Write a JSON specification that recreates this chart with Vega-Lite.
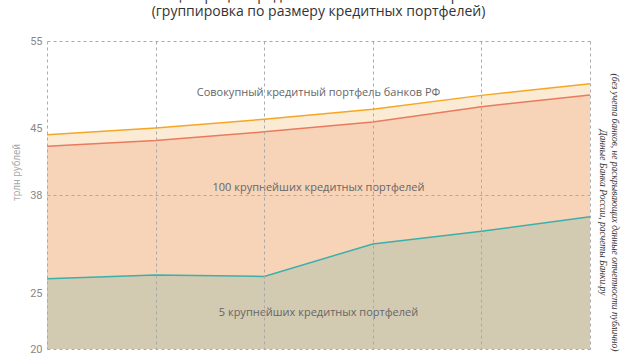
{
  "$schema": "https://vega.github.io/schema/vega-lite/v6.json",
  "autosize": "none",
  "width": 543,
  "height": 308,
  "padding": {"left": 47, "top": 41, "right": 40, "bottom": 6},
  "background": "white",
  "title": {
    "text": ["Концентрация кредитов в банковском секторе РФ", "(группировка по размеру кредитных портфелей)"],
    "font": "Open Sans",
    "fontSize": 14,
    "fontWeight": "normal",
    "color": "#333333",
    "anchor": "middle",
    "lineHeight": 16,
    "offset": 16
  },
  "config": {"view": {"stroke": null}},
  "data": {
    "values": [
      {"year": 2013, "total": 44.3, "top100": 43.1, "top5": 26.9},
      {"year": 2014, "total": 45.0, "top100": 43.7, "top5": 27.4},
      {"year": 2015, "total": 46.0, "top100": 44.6, "top5": 27.2},
      {"year": 2016, "total": 47.15, "top100": 45.7, "top5": 31.5},
      {"year": 2017, "total": 48.75, "top100": 47.45, "top5": 33.2},
      {"year": 2018, "total": 50.1, "top100": 48.8, "top5": 35.1}
    ]
  },
  "resolve": {"axis": {"y": "independent"}},
  "layer": [
    {
      "mark": {"type": "area", "color": "#FCEBD4", "opacity": 1},
      "encoding": {
        "x": {
          "field": "year", "type": "quantitative",
          "scale": {"domain": [2013, 2018], "nice": false, "zero": false},
          "axis": {
            "values": [2013, 2014, 2015, 2016, 2017, 2018],
            "labels": false, "ticks": false, "domain": false, "title": null,
            "grid": true, "gridColor": "#aaaaaa", "gridDash": [3, 3], "gridWidth": 1, "zindex": 1
          }
        },
        "y": {
          "field": "total", "type": "quantitative",
          "scale": {"type": "linear", "domain": [20, 25, 38, 45, 55], "range": [308, 252, 154, 87, 0], "zero": false, "nice": false},
          "axis": {
            "values": [20, 25, 38, 45, 55],
            "ticks": false, "domain": false,
            "labelFont": "Roboto", "labelFontSize": 11, "labelColor": "#888888", "labelPadding": 5,
            "grid": true, "gridColor": "#aaaaaa", "gridDash": [3, 3], "gridWidth": 1,
            "gridOpacity": {"condition": {"test": "datum.value == 25 || datum.value == 45", "value": 0}, "value": 1},
            "title": "трлн рублей", "titleFont": "Roboto", "titleFontSize": 10, "titleFontWeight": "normal",
            "titleColor": "#aaaaaa", "titleX": -31, "titleY": 131, "titleAngle": -90, "titleAlign": "center", "titleBaseline": "middle",
            "zindex": 1
          }
        },
        "y2": {"datum": 20}
      }
    },
    {
      "mark": {"type": "area", "color": "#F7D4B8", "opacity": 1},
      "encoding": {
        "x": {"field": "year", "type": "quantitative"},
        "y": {"field": "top100", "type": "quantitative", "axis": null},
        "y2": {"datum": 20}
      }
    },
    {
      "mark": {"type": "area", "color": "#D3CAB2", "opacity": 1},
      "encoding": {
        "x": {"field": "year", "type": "quantitative"},
        "y": {"field": "top5", "type": "quantitative", "axis": null},
        "y2": {"datum": 20}
      }
    },
    {
      "mark": {"type": "line", "color": "#F5A623", "strokeWidth": 1.5},
      "encoding": {
        "x": {"field": "year", "type": "quantitative"},
        "y": {"field": "total", "type": "quantitative", "axis": null}
      }
    },
    {
      "mark": {"type": "line", "color": "#EA7A5E", "strokeWidth": 1.5},
      "encoding": {
        "x": {"field": "year", "type": "quantitative"},
        "y": {"field": "top100", "type": "quantitative", "axis": null}
      }
    },
    {
      "mark": {"type": "line", "color": "#3AB0AA", "strokeWidth": 1.5},
      "encoding": {
        "x": {"field": "year", "type": "quantitative"},
        "y": {"field": "top5", "type": "quantitative", "axis": null}
      }
    },
    {
      "data": {
        "values": [
          {"x": 2015.5, "y": 49.0, "label": "Совокупный кредитный портфель банков РФ"},
          {"x": 2015.5, "y": 38.73, "label": "100 крупнейших кредитных портфелей"},
          {"x": 2015.5, "y": 23.2, "label": "5 крупнейших кредитных портфелей"}
        ]
      },
      "mark": {"type": "text", "font": "Open Sans", "fontSize": 11, "color": "#666666", "align": "center", "baseline": "middle"},
      "encoding": {
        "x": {"field": "x", "type": "quantitative"},
        "y": {
          "field": "y", "type": "quantitative",
          "axis": {
            "orient": "right", "labels": false, "ticks": false, "domain": false, "grid": false,
            "title": ["(без учета банков, не раскрывающих данные отчетности публично)", "Данные Банка России, расчеты Банки.ру"],
            "titleFont": "Liberation Serif", "titleFontStyle": "italic", "titleFontWeight": "normal",
            "titleFontSize": 9.5, "titleColor": "#333333", "titleLineHeight": 12,
            "titleAngle": 90, "titleAlign": "center", "titleBaseline": "middle",
            "titleX": 24, "titleY": 171
          }
        },
        "text": {"field": "label"}
      }
    }
  ]
}
